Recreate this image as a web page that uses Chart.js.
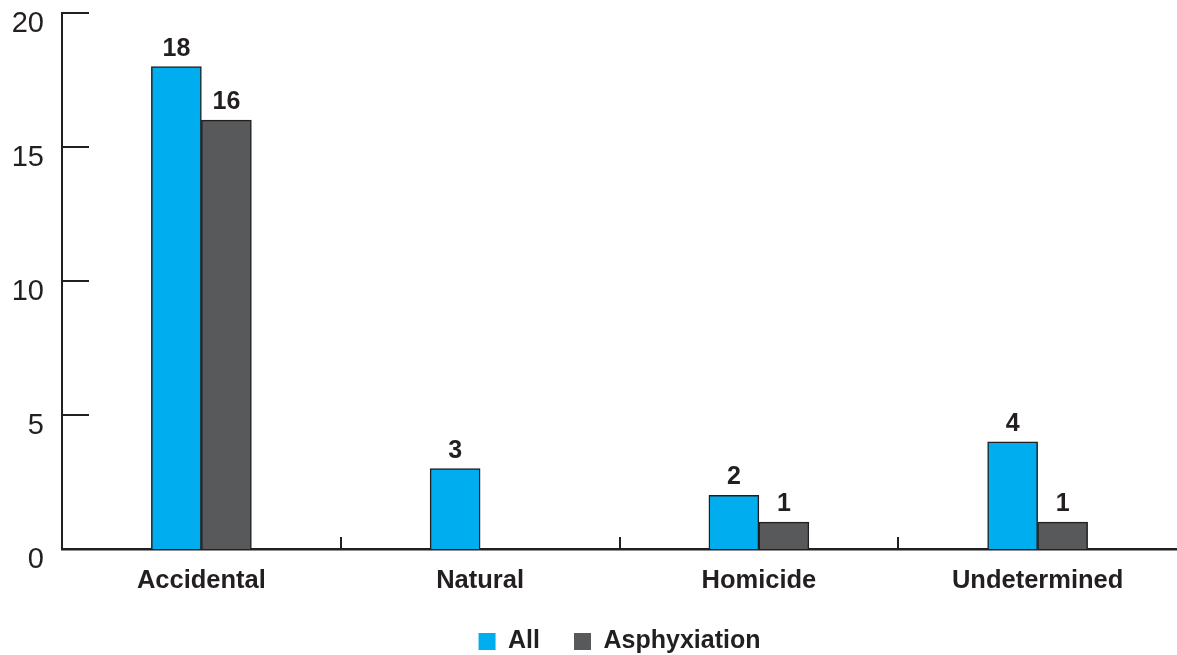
<!DOCTYPE html>
<html>
<head>
<meta charset="utf-8">
<title>Manner of death</title>
<script src="https://cdn.jsdelivr.net/npm/chart.js@4/dist/chart.umd.min.js"></script>
<style>
  html, body { margin: 0; padding: 0; background: #ffffff; }
  #wrap { width: 1177px; height: 655px; position: relative; }
</style>
</head>
<body>
<div id="wrap"><canvas id="manner-chart"></canvas></div>
<script>
/* Cases by manner of death */
const categories = ['Accidental', 'Natural', 'Homicide', 'Undetermined'];
const allCases = [18, 3, 2, 4];
const asphyxiation = [16, null, 1, 1];
const yTicks = [0, 5, 10, 15, 20];

const INK = '#231f20';
const FONT = "'Liberation Sans', Arial, Helvetica, sans-serif";

/* Short tick marks drawn inward from the axes */
const innerTicks = {
    id: 'innerTicks',
    afterDraw(chart) {
        const {ctx, chartArea, scales: {x, y}} = chart;
        ctx.save();
        ctx.strokeStyle = INK;
        ctx.lineWidth = 2;
        ctx.beginPath();
        y.ticks.forEach((t) => {
            const py = Math.round(y.getPixelForValue(t.value));
            ctx.moveTo(chartArea.left, py);
            ctx.lineTo(chartArea.left + 27, py);
        });
        for (let i = 1; i < categories.length; i++) {
            const px = Math.round((x.getPixelForTick(i - 1) + x.getPixelForTick(i)) / 2);
            ctx.moveTo(px, chartArea.bottom);
            ctx.lineTo(px, chartArea.bottom - 12);
        }
        ctx.stroke();
        ctx.restore();
    }
};

/* Value printed above every bar */
const barValues = {
    id: 'barValues',
    afterDatasetsDraw(chart) {
        const ctx = chart.ctx;
        ctx.save();
        ctx.fillStyle = INK;
        ctx.font = 'bold 25px ' + FONT;
        ctx.textAlign = 'center';
        ctx.textBaseline = 'alphabetic';
        chart.data.datasets.forEach((ds, di) => {
            const meta = chart.getDatasetMeta(di);
            meta.data.forEach((bar, i) => {
                const v = ds.data[i];
                if (v === null || v === undefined) return;
                ctx.fillText(String(v), bar.x, bar.y - 11);
            });
        });
        ctx.restore();
    }
};

function initMannerChart() {
    const ctx = document.getElementById('manner-chart');
    return new Chart(ctx, {
        type: 'bar',
        data: {
            labels: categories,
            datasets: [{
                label: 'All',
                data: allCases,
                backgroundColor: '#00aeef',
                borderColor: INK,
                borderWidth: 1.5,
                barThickness: 50
            }, {
                label: 'Asphyxiation',
                data: asphyxiation,
                backgroundColor: '#58595b',
                borderColor: INK,
                borderWidth: 1.5,
                barThickness: 50
            }]
        },
        options: {
            responsive: true,
            maintainAspectRatio: false,
            animation: false,
            layout: { padding: { top: 0, right: 0, bottom: -9, left: 0 } },
            plugins: {
                tooltip: { enabled: false },
                legend: {
                    position: 'bottom',
                    fullSize: false,
                    labels: {
                        color: INK,
                        font: { family: FONT, size: 25, weight: 'bold' },
                        boxWidth: 17,
                        boxHeight: 17,
                        padding: 34,
                        generateLabels(chart) {
                            const items = Chart.defaults.plugins.legend.labels.generateLabels(chart);
                            return items.map((it) => Object.assign(it, { lineWidth: 0, strokeStyle: it.fillStyle }));
                        }
                    }
                }
            },
            scales: {
                x: {
                    grid: { display: false, drawTicks: true, tickLength: 17 },
                    border: { color: INK, width: 2.5 },
                    ticks: {
                        color: INK,
                        padding: 0,
                        font: { family: FONT, size: 25.5, weight: 'bold', lineHeight: '30px' }
                    },
                    afterFit(scale) { scale.height = 46; }
                },
                y: {
                    min: 0,
                    max: 20,
                    grid: { display: false, drawTicks: true, tickLength: 18 },
                    border: { color: INK, width: 2 },
                    afterBuildTicks(scale) { scale.ticks = yTicks.map((v) => ({ value: v })); },
                    ticks: {
                        color: INK,
                        padding: 0,
                        labelOffset: 11,
                        font: { family: FONT, size: 29, lineHeight: '26px' }
                    },
                    afterFit(scale) { scale.width = 62; }
                }
            }
        },
        plugins: [innerTicks, barValues]
    });
}

var mannerChart = initMannerChart();
</script>
</body>
</html>
